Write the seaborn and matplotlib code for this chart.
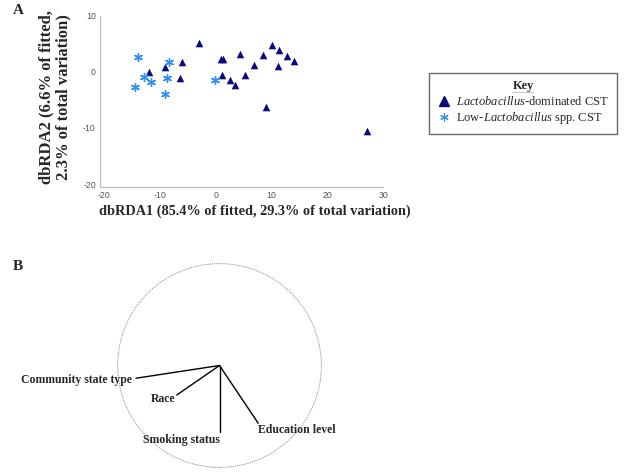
import seaborn as sns
import matplotlib.pyplot as plt
import matplotlib.lines as mlines
import matplotlib.patches as mpatches
import pandas as pd
import numpy as np

sns.set_style('white')
plt.rcParams['font.family'] = ['Liberation Serif', 'DejaVu Serif']
plt.rcParams['mathtext.fontset'] = 'custom'
plt.rcParams['mathtext.rm'] = 'Liberation Serif'
plt.rcParams['mathtext.it'] = 'Liberation Serif:italic'
plt.rcParams['axes.unicode_minus'] = False

# Panel A: dbRDA ordination scores
lacto_x = [-2.9, -11.9, -9.1, -6.1, -6.4, 1.0, 1.4, 1.2, 2.5, 3.4, 4.3, 5.3,
           6.9, 8.5, 10.1, 11.4, 12.8, 11.1, 14.1, 9.1, 27.2]
lacto_y = [5.2, 0.0, 0.8, 1.7, -1.1, 2.3, 2.3, -0.5, -1.4, -2.3, 3.1, -0.6,
           1.2, 3.0, 4.7, 3.8, 2.8, 1.1, 1.9, -6.2, -10.5]
low_x = [-13.9, -14.5, -12.9, -11.6, -8.4, -8.7, -9.0, -0.1]
low_y = [2.7, -2.7, -0.95, -1.9, 1.7, -1.1, -3.9, -1.4]

group_labels = ['Lactobacillus-dominated CST', 'Low-Lactobacillus spp. CST']
legend_labels = [r'$\it{Lactobacillus}$-dominated CST',
                 r'Low-$\it{Lactobacillus}$ spp. CST']

# Panel B: biplot vectors (unit circle scale)
var_names = ['Community state type', 'Race', 'Smoking status', 'Education level']
vec_x = [-0.82, -0.42, 0.0, 0.38]
vec_y = [-0.125, -0.29, -0.65, -0.567]

df = pd.DataFrame({
    'dbRDA1': lacto_x + low_x,
    'dbRDA2': lacto_y + low_y,
    'group': [group_labels[0]] * len(lacto_x) + [group_labels[1]] * len(low_x),
})

navy = '#0b0b7d'
light = '#2b8ff5'

fig = plt.figure(figsize=(6.25, 4.72), dpi=100)
ax = fig.add_axes([0.16, 0.604, 0.453, 0.363])

sns.scatterplot(data=df[df.group == group_labels[0]], x='dbRDA1', y='dbRDA2',
                marker='^', color=navy, s=30, linewidth=0, ax=ax, legend=False)
sns.scatterplot(data=df[df.group == group_labels[1]], x='dbRDA1', y='dbRDA2',
                marker=(6, 2, 0), color=light, s=32, linewidth=1.0, ax=ax, legend=False)

ax.set_xlim(-20.7, 30)
ax.set_ylim(-20.5, 10)
ax.set_xticks([-20, -10, 0, 10, 20, 30])
ax.set_yticks([-20, -10, 0, 10])
ax.tick_params(labelsize=6.3, labelcolor='#555555', color='#bbbbbb', length=3,
               width=0.6, pad=1.5, direction='inout', labelfontfamily='Liberation Sans')
for side in ['top', 'right']:
    ax.spines[side].set_visible(False)
for side in ['left', 'bottom']:
    ax.spines[side].set_color('#bbbbbb')
    ax.spines[side].set_linewidth(0.8)
ax.set_xlabel('')
ax.set_ylabel('')

fig.text(255 / 625, 1 - 211 / 472, 'dbRDA1 (85.4% of fitted, 29.3% of total variation)',
         ha='center', va='center', fontsize=10.3, fontweight='bold')
fig.text(55 / 625, 1 - 97 / 472, 'dbRDA2 (6.6% of fitted,\n2.3% of total variation)',
         ha='center', va='center', rotation=90, fontsize=12, fontweight='bold',
         linespacing=1.1)

fig.text(13 / 625, 1 - 10 / 472, 'A', ha='left', va='center', fontsize=11, fontweight='bold')
fig.text(13 / 625, 1 - 266 / 472, 'B', ha='left', va='center', fontsize=11, fontweight='bold')

handles = [
    mlines.Line2D([], [], color=navy, marker='^', linestyle='None', markersize=7.5),
    mlines.Line2D([], [], color=light, marker=(6, 2, 0), linestyle='None',
                  markersize=6, markeredgewidth=0.8),
]
leg = fig.legend(handles, legend_labels, loc='upper left',
                 bbox_to_anchor=(429 / 625, 1 - 73 / 472), fontsize=9,
                 frameon=True, fancybox=False, edgecolor='#444444',
                 borderpad=0.6, handletextpad=0.4, labelspacing=0.2,
                 handlelength=1.2, borderaxespad=0)
leg.set_title('Key', prop={'family': 'Liberation Serif', 'weight': 'bold', 'size': 9})
leg.get_frame().set_linewidth(1.0)

# Panel B: biplot
ax2 = fig.add_axes([(219.5 - 107) / 625, (106.5 - 107) / 472, 214 / 625, 214 / 472])
ax2.set_xlim(-1.05, 1.05)
ax2.set_ylim(-1.05, 1.05)
ax2.axis('off')
ax2.add_patch(mpatches.Circle((0, 0), 1.0, fill=False, edgecolor='#888888',
                              linewidth=0.7, linestyle=(0, (1, 1))))

offsets = [(-3, -1, 'right', 'center'), (-1, -2.5, 'right', 'center'),
           (0.5, -1.5, 'right', 'top'), (0, -4.5, 'left', 'center')]
for name, vx, vy, (dx, dy, ha, va) in zip(var_names, vec_x, vec_y, offsets):
    sns.lineplot(x=[0, vx], y=[vy * 0, vy], color='black', linewidth=1.0, ax=ax2,
                 sort=False, estimator=None)
    ax2.annotate(name, xy=(vx, vy), xytext=(dx, dy), textcoords='offset points',
                 ha=ha, va=va, fontsize=8.5, fontweight='bold', annotation_clip=False)

# underline the legend title
fig.canvas.draw()
bb = leg.get_title().get_window_extent().transformed(fig.transFigure.inverted())
fig.add_artist(mlines.Line2D([bb.x0, bb.x1], [bb.y0 + 0.002, bb.y0 + 0.002],
                             transform=fig.transFigure, color='black', linewidth=0.8))

fig.savefig('out.png', dpi=100)
plt.close(fig)
